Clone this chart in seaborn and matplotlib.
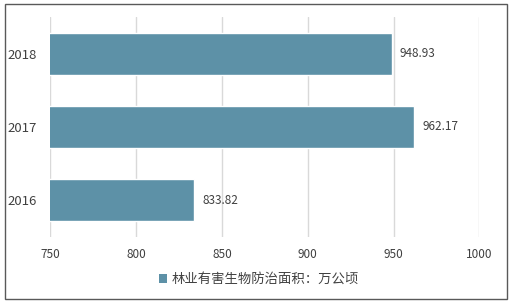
import matplotlib
matplotlib.use("Agg")
import matplotlib.pyplot as plt
import seaborn as sns
import pandas as pd
from matplotlib.patches import Rectangle, Patch

years = ["2018", "2017", "2016"]
values = [948.93, 962.17, 833.82]
series_name = "林业有害生物防治面积：万公顷"
xticks = [750, 800, 850, 900, 950, 1000]

sns.set_theme(style="white")
plt.rcParams['font.family'] = ['Noto Sans CJK SC', 'DejaVu Sans']

df = pd.DataFrame({"year": years, "value": values})
color = "#5D91A7"
text_color = "#404040"

fig = plt.figure(figsize=(5.11, 3.02), dpi=100)
ax = fig.add_axes([50.3/511, 1-237/302, (479.3-50.3)/511, (237-17)/302])

sns.barplot(data=df, y="year", x="value", order=years, color=color,
            width=0.57, ax=ax, saturation=1, zorder=3)
ax.set_xlim(750, 1000)
ax.set_ylim(2.5, -0.5)
ax.set_xticks(xticks)
ax.set_xticklabels([str(t) for t in xticks], fontsize=8.5, color=text_color)
ax.tick_params(axis='y', labelsize=9.5, labelcolor=text_color, length=0, pad=10)
ax.tick_params(axis='x', length=0, pad=8)
ax.set_xlabel("")
ax.set_ylabel("")
for s in ax.spines.values():
    s.set_visible(False)
ax.grid(axis='x', color="#D9D9D9", linewidth=1, zorder=0)
ax.set_axisbelow(True)

for i, v in enumerate(values):
    ax.annotate(f"{v:.2f}", xy=(v, i), xytext=(6, 0), textcoords="offset points",
                va="center", ha="left", fontsize=8.5, color=text_color)

handles = [Patch(facecolor=color, edgecolor="none", label=series_name)]
fig.legend(handles=handles, loc="center", bbox_to_anchor=(259/511, 1-279/302),
           frameon=False, fontsize=9.6, handlelength=0.6, handleheight=0.6,
           handletextpad=0.3, labelcolor=text_color)

fig.patches.append(Rectangle((5/511, 3/302), 502/511, 295/302, transform=fig.transFigure,
                             fill=False, edgecolor="#595959", linewidth=1))

fig.savefig("out.png", dpi=100)
